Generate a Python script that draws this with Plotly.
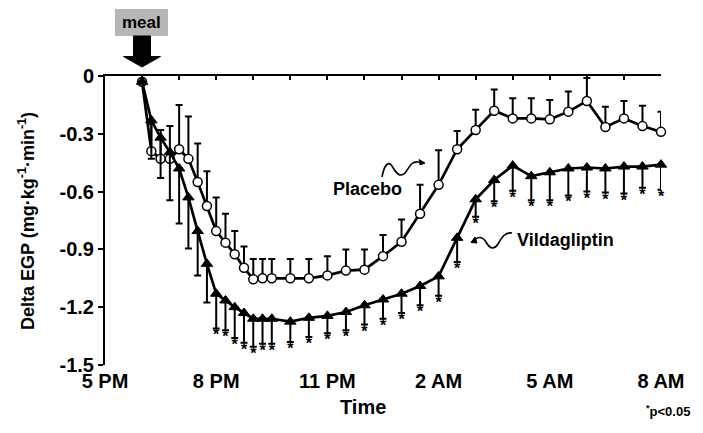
import plotly.graph_objects as go

# ---------------- data ----------------
time_h = [18.0, 18.25, 18.5, 18.75, 19.0, 19.25, 19.5, 19.75, 20.0, 20.25, 20.5, 20.75,
          21.0, 21.25, 21.5, 22.0, 22.5, 23.0, 23.5, 24.0, 24.5, 25.0, 25.5, 26.0,
          26.5, 27.0, 27.5, 28.0, 28.5, 29.0, 29.5, 30.0, 30.5, 31.0, 31.5, 32.0]

placebo = [-0.03, -0.39, -0.43, -0.43, -0.38, -0.43, -0.55, -0.675, -0.805, -0.865, -0.925, -0.995,
           -1.055, -1.05, -1.05, -1.05, -1.05, -1.035, -1.01, -1.005, -0.935, -0.86, -0.715, -0.565,
           -0.38, -0.28, -0.18, -0.22, -0.22, -0.225, -0.185, -0.13, -0.265, -0.22, -0.26, -0.29]
placebo_err = [0.0, 0.14, 0.15, 0.17, 0.23, 0.22, 0.2, 0.18, 0.175, 0.15, 0.12, 0.11,
               0.105, 0.1, 0.1, 0.1, 0.1, 0.1, 0.11, 0.105, 0.11, 0.115, 0.15, 0.18,
               0.095, 0.105, 0.11, 0.105, 0.105, 0.1, 0.105, 0.12, 0.105, 0.09, 0.105, 0.105]

vilda = [-0.03, -0.23, -0.32, -0.395, -0.48, -0.63, -0.805, -0.975, -1.13, -1.165, -1.2, -1.23,
         -1.26, -1.26, -1.26, -1.275, -1.255, -1.245, -1.225, -1.19, -1.16, -1.13, -1.09, -1.04,
         -0.84, -0.64, -0.54, -0.465, -0.52, -0.5, -0.48, -0.475, -0.48, -0.47, -0.47, -0.46]
vilda_err = [0.0, 0.2, 0.21, 0.25, 0.285, 0.265, 0.23, 0.2, 0.18, 0.155, 0.16, 0.155,
             0.145, 0.13, 0.13, 0.105, 0.1, 0.09, 0.095, 0.1, 0.1, 0.1, 0.1, 0.1,
             0.125, 0.09, 0.11, 0.13, 0.125, 0.145, 0.14, 0.125, 0.125, 0.14, 0.11, 0.13]
significant = [0] * 8 + [1] * 28

x_tickvals = [17, 20, 23, 26, 29, 32]
x_ticktext = ["5 PM", "8 PM", "11 PM", "2 AM", "5 AM", "8 AM"]
y_tickvals = [0, -0.3, -0.6, -0.9, -1.2, -1.5]
y_ticktext = ["0", "-0.3", "-0.6", "-0.9", "-1.2", "-1.5"]

# ---------------- layout geometry ----------------
W, H = 703, 433
ML, MR, MT, MB = 105, 42, 76, 68
PW, PH = W - ML - MR, H - MT - MB


def px(x):
    return (x - ML) / PW


def py(y):
    return (H - MB - y) / PH


def path(points, close=True):
    s = "M " + " L ".join(f"{px(a):.5f},{py(b):.5f}" for a, b in points)
    return s + (" Z" if close else "")


def curve(start, segs):
    s = f"M {px(start[0]):.5f},{py(start[1]):.5f}"
    for seg in segs:
        s += " C " + " ".join(f"{px(a):.5f},{py(b):.5f}" for a, b in seg)
    return s


FONT = "Liberation Sans, Arial, Helvetica, sans-serif"

fig = go.Figure()

# Placebo
fig.add_trace(go.Scatter(
    x=time_h, y=placebo, mode="lines+markers",
    line=dict(color="black", width=2.7),
    marker=dict(symbol="circle", size=9, color="white", line=dict(color="black", width=1.5)),
    error_y=dict(type="data", symmetric=False, array=placebo_err,
                 arrayminus=[0] * len(placebo_err), color="black", thickness=2, width=3.5),
    cliponaxis=False, showlegend=False))

# Vildagliptin
fig.add_trace(go.Scatter(
    x=time_h, y=vilda, mode="lines+markers",
    line=dict(color="black", width=2.7),
    marker=dict(symbol="triangle-up", size=10, color="black", line=dict(color="black", width=1)),
    error_y=dict(type="data", symmetric=False, array=[0] * len(vilda_err),
                 arrayminus=vilda_err, color="black", thickness=2, width=3.5),
    cliponaxis=False, showlegend=False))

# asterisks below the vildagliptin error bars
ax = [t for t, s in zip(time_h, significant) if s]
ay = [v - e for v, e, s in zip(vilda, vilda_err, significant) if s]
fig.add_trace(go.Scatter(
    x=ax, y=ay, mode="text", text=["*"] * len(ax), textposition="bottom center",
    textfont=dict(family=FONT, size=16, color="black", weight="bold"),
    cliponaxis=False, showlegend=False))

# dummy trace for the top axis
fig.add_trace(go.Scatter(x=[17], y=[None], xaxis="x2", mode="lines", showlegend=False))

shapes = []
# meal box
shapes.append(dict(type="rect", xref="paper", yref="paper",
                   x0=px(115), x1=px(168), y0=py(36), y1=py(9),
                   fillcolor="#b6b6b6", line=dict(width=0), layer="above"))
# meal arrow
shapes.append(dict(type="path", xref="paper", yref="paper",
                   path=path([(133.5, 36), (150.5, 36), (150.5, 56.5), (160.5, 56.5),
                              (142, 67), (123.5, 56.5), (133.5, 56.5)]),
                   fillcolor="black", line=dict(color="black", width=1), layer="above"))
# placebo squiggle
shapes.append(dict(type="path", xref="paper", yref="paper",
                   path=curve((382, 177), [((384, 166), (388, 160), (392, 166)),
                                           ((396, 173), (400, 178), (405, 173)),
                                           ((409, 168), (411, 161), (418, 162)),
                                           ((420, 162), (422, 162), (424, 163))]),
                   line=dict(color="black", width=1.6), layer="above"))
shapes.append(dict(type="path", xref="paper", yref="paper",
                   path=path([(425, 163), (419, 159.5), (420, 165)]),
                   fillcolor="black", line=dict(color="black", width=1), layer="above"))
# vildagliptin squiggle
shapes.append(dict(type="path", xref="paper", yref="paper",
                   path=curve((472, 242), [((478, 236), (482, 236), (486, 242)),
                                           ((490, 249), (494, 250), (498, 244)),
                                           ((502, 237), (505, 232), (512, 233))]),
                   line=dict(color="black", width=1.6), layer="above"))
shapes.append(dict(type="path", xref="paper", yref="paper",
                   path=path([(471, 242.5), (475, 237), (477, 243)]),
                   fillcolor="black", line=dict(color="black", width=1), layer="above"))

annotations = [
    dict(text="meal", xref="paper", yref="paper", x=px(141.5), y=py(22.5),
         showarrow=False, xanchor="center", yanchor="middle",
         font=dict(family=FONT, size=17, color="black", weight="bold")),
    dict(text="Placebo", xref="paper", yref="paper", x=px(367.5), y=py(189),
         showarrow=False, xanchor="center", yanchor="middle",
         font=dict(family=FONT, size=18, color="black", weight="bold")),
    dict(text="Vildagliptin", xref="paper", yref="paper", x=px(515), y=py(240),
         showarrow=False, xanchor="left", yanchor="middle",
         font=dict(family=FONT, size=18, color="black", weight="bold")),
    dict(text="Time", xref="paper", yref="paper", x=px(363), y=py(407),
         showarrow=False, xanchor="center", yanchor="middle",
         font=dict(family=FONT, size=20, color="black", weight="bold")),
    dict(text="<sup>*</sup>p&lt;0.05", xref="paper", yref="paper", x=px(668), y=py(411),
         showarrow=False, xanchor="center", yanchor="middle",
         font=dict(family=FONT, size=13, color="black", weight="bold")),
    dict(text="Delta EGP (mg·kg<sup>-1</sup>·min<sup>-1</sup>)", xref="paper", yref="paper",
         x=px(26), y=py(221), textangle=-90, showarrow=False,
         xanchor="center", yanchor="middle",
         font=dict(family=FONT, size=18, color="black", weight="bold")),
]

fig.update_layout(
    width=W, height=H,
    margin=dict(l=ML, r=MR, t=MT, b=MB, pad=0),
    paper_bgcolor="white", plot_bgcolor="white",
    shapes=shapes, annotations=annotations,
    xaxis=dict(range=[17, 32], tickvals=x_tickvals, ticktext=x_ticktext,
               showline=False, showgrid=False, zeroline=False, ticks="",
               ticklabelstandoff=2,
               tickfont=dict(family=FONT, size=20, color="black", weight="bold")),
    xaxis2=dict(range=[17, 32], overlaying="x", side="top", anchor="y",
                tick0=17, dtick=1, ticks="inside", ticklen=4, tickwidth=2, tickcolor="black",
                showline=True, linewidth=2, linecolor="black",
                showgrid=False, zeroline=False, showticklabels=False),
    yaxis=dict(range=[-1.5, 0], tickvals=y_tickvals, ticktext=y_ticktext,
               showline=True, linewidth=2, linecolor="black",
               ticks="outside", ticklen=5, tickwidth=2, tickcolor="black",
               showgrid=False, zeroline=False,
               tickfont=dict(family=FONT, size=20, color="black", weight="bold")),
)

fig.write_html("out.html")
